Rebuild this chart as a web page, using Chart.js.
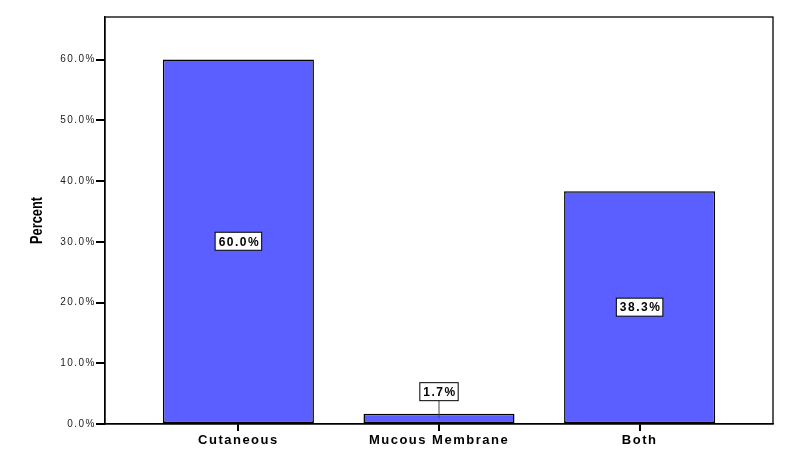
<!DOCTYPE html>
<html>
<head>
<meta charset="utf-8">
<title>Percent by site</title>
<script src="https://cdn.jsdelivr.net/npm/chart.js@4.4.1/dist/chart.umd.min.js"></script>
<style>
    html, body { margin: 0; padding: 0; background: #fff; }
    #chart { display: block; }
</style>
</head>
<body>
<canvas id="chart" width="795" height="465"></canvas>
<script>
const categories = ['Cutaneous', 'Mucous Membrane', 'Both'];
const percents = [60.0, 1.7, 38.3];
const yTicks = [0, 10, 20, 30, 40, 50, 60];
const yMax = 67;
const axisTitle = 'Percent';

const FONT = '"Liberation Sans", Arial, sans-serif';

// SPSS-style text is drawn a bit loose, canvas can do that
const spacing = {
    id: 'spacing',
    beforeLayout(chart) { chart.ctx.letterSpacing = '1.5px'; },
    beforeDraw(chart) { chart.ctx.letterSpacing = '1.5px'; }
};

// box round the chart area + rotated (condensed) axis title
const frame = {
    id: 'frame',
    afterDraw(chart) {
        const { ctx, chartArea } = chart;
        ctx.save();
        ctx.strokeStyle = '#000';
        ctx.lineWidth = 1.3;
        ctx.strokeRect(chartArea.left, chartArea.top,
            chartArea.right - chartArea.left, chartArea.bottom - chartArea.top);

        ctx.letterSpacing = '0px';
        ctx.font = 'bold 16px ' + FONT;
        const w = ctx.measureText(axisTitle).width;
        ctx.translate(38, (chartArea.top + chartArea.bottom) / 2);
        ctx.rotate(-Math.PI / 2);
        ctx.scale(47 / w, 1);
        ctx.fillStyle = '#000';
        ctx.textAlign = 'center';
        ctx.textBaseline = 'middle';
        ctx.fillText(axisTitle, 0, 0);
        ctx.restore();
    }
};

const valueLabels = {
    id: 'valueLabels',
    afterDatasetsDraw(chart) {
        const ctx = chart.ctx;
        const meta = chart.getDatasetMeta(0);
        ctx.save();
        ctx.font = 'bold 12px ' + FONT;
        ctx.letterSpacing = '1.5px';
        ctx.textAlign = 'center';
        ctx.textBaseline = 'middle';
        meta.data.forEach((bar, i) => {
            const text = percents[i].toFixed(1) + '%';
            const w = ctx.measureText(text).width + 5;
            const h = 18;
            const mid = (bar.y + bar.base) / 2;
            let cy = mid;
            if (bar.base - bar.y < h + 10) {
                cy = bar.y - 13 - h / 2;
                ctx.strokeStyle = '#444';
                ctx.lineWidth = 1;
                ctx.beginPath();
                ctx.moveTo(bar.x, cy + h / 2);
                ctx.lineTo(bar.x, mid);
                ctx.stroke();
            }
            ctx.fillStyle = '#fff';
            ctx.fillRect(bar.x - w / 2, cy - h / 2, w, h);
            ctx.strokeStyle = '#000';
            ctx.lineWidth = 1;
            ctx.strokeRect(bar.x - w / 2, cy - h / 2, w, h);
            ctx.fillStyle = '#000';
            ctx.fillText(text, bar.x + 1, cy + 1);
        });
        ctx.restore();
    }
};

const ctx = document.getElementById('chart').getContext('2d');

new Chart(ctx, {
    type: 'bar',
    data: {
        datasets: [{
            label: axisTitle,
            data: percents.map((v, i) => ({ x: i, y: v })),
            backgroundColor: '#5b5fff',
            borderColor: '#000',
            borderWidth: 1.5,
            borderSkipped: false,
            categoryPercentage: 1,
            barPercentage: 0.753
        }]
    },
    options: {
        responsive: false,
        animation: false,
        layout: { padding: { top: 17, right: 22, left: 0, bottom: 0 } },
        plugins: {
            legend: { display: false },
            tooltip: { enabled: false }
        },
        scales: {
            x: {
                type: 'linear',
                offset: false,
                min: -0.665,
                max: 2.665,
                afterBuildTicks: function(scale) {
                    scale.ticks = categories.map((c, i) => ({ value: i }));
                },
                afterFit: function(scale) { scale.height = 41; },
                grid: {
                    offset: false,
                    drawOnChartArea: false,
                    drawTicks: true,
                    tickLength: 7,
                    color: '#000',
                    lineWidth: 2
                },
                border: { color: '#000', width: 1.3 },
                ticks: {
                    autoSkip: false,
                    maxRotation: 0,
                    padding: 2,
                    color: '#000',
                    font: { family: FONT, size: 13, weight: 'bold' },
                    callback: function(value) { return categories[value]; }
                }
            },
            y: {
                min: 0,
                max: yMax,
                afterBuildTicks: function(scale) {
                    scale.ticks = yTicks.map(v => ({ value: v }));
                },
                afterFit: function(scale) { scale.width = 105; },
                grid: {
                    drawOnChartArea: false,
                    drawTicks: true,
                    tickLength: 9,
                    color: '#000',
                    lineWidth: 2
                },
                border: { color: '#000', width: 1.3 },
                ticks: {
                    padding: 0,
                    color: '#222',
                    font: { family: FONT, size: 10 },
                    callback: function(value) { return value.toFixed(1) + '%'; }
                }
            }
        }
    },
    plugins: [spacing, valueLabels, frame]
});
</script>
</body>
</html>
